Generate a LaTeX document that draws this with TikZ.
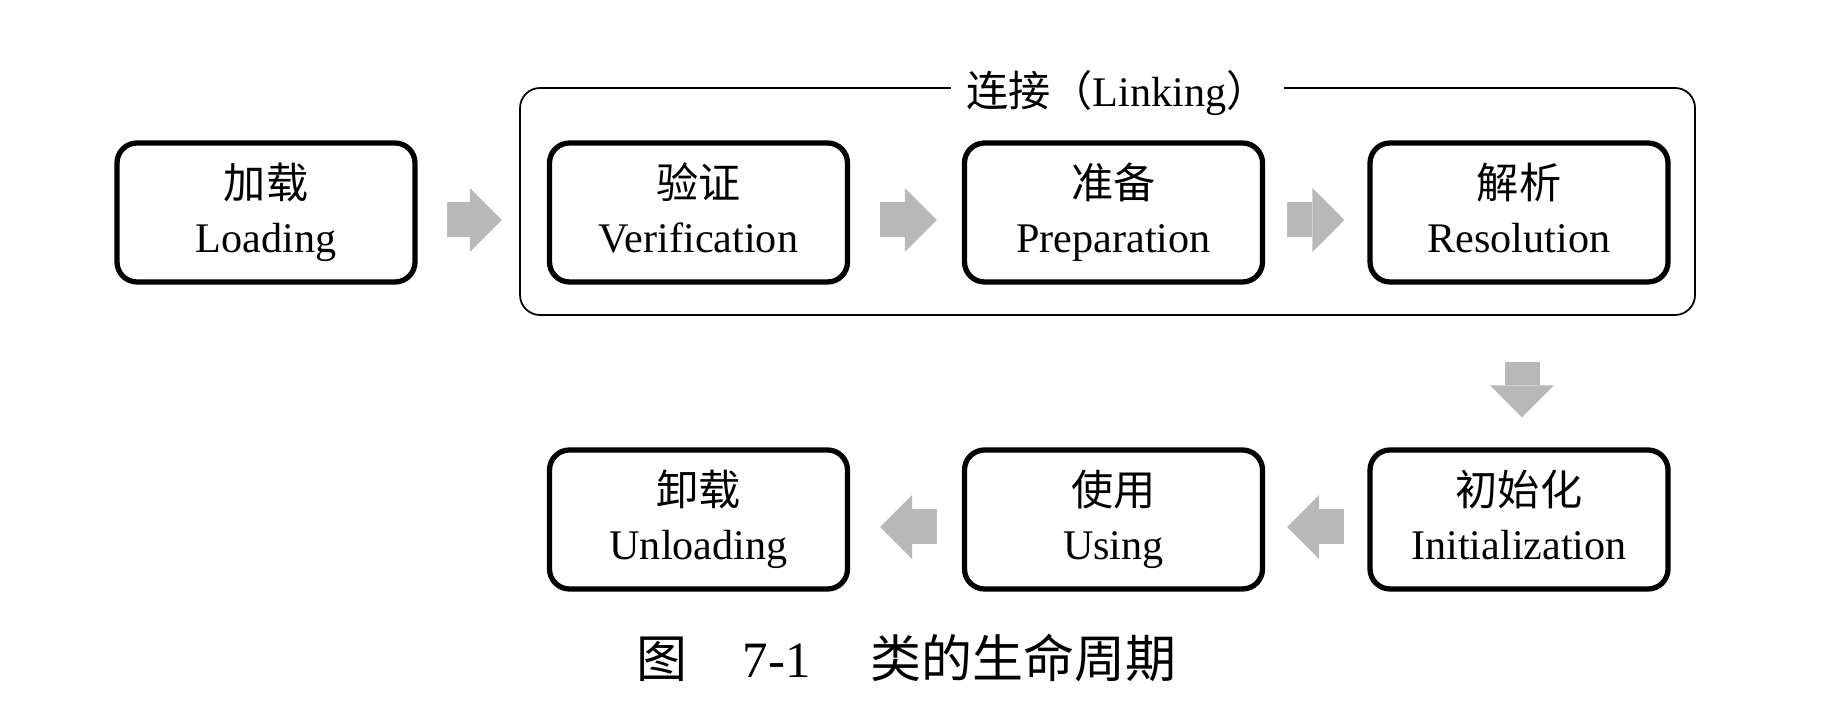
\documentclass[tikz,border=0pt]{standalone}
\usepackage{fontspec}
\setmainfont{Liberation Serif}
\newfontfamily\cjk{Noto Sans CJK SC}
\usetikzlibrary{arrows.meta}
\newcommand\stagetext[2]{{\cjk #1}\\#2\vphantom{gL}}

\begin{document}
\begin{tikzpicture}[
    stage/.style={draw, line width=1.5pt, rounded corners=0.2cm, minimum width=2.98cm, minimum height=1.39cm, inner sep=0pt, align=center, font=\fontsize{12}{15.4}\selectfont},
    flow/.style={line width=3.5mm, draw=black!28, -{Triangle[length=3.2mm, width=6.4mm, line width=0pt]}}
]
    \useasboundingbox (0,0) rectangle (18.34,7.28);
    % linking frame
    \node[draw, line width=0.5pt, rounded corners=0.2cm, minimum width=11.75cm, minimum height=2.27cm] (link) at (11.075,5.265) {};
    \node[fill=white, inner xsep=0.15cm, inner ysep=0pt, font=\fontsize{12}{14}\selectfont] (linkname) at ([xshift=0.1cm, yshift=-0.06cm]link.north) {{\cjk 连接（}Linking{\cjk ）}};
    % stages
    \node[stage] (load) at (2.66,5.155) {\stagetext{加载}{Loading}};
    \node[stage] (verify) at (6.985,5.155) {\stagetext{验证}{Verification}};
    \node[stage] (prep) at (11.135,5.155) {\stagetext{准备}{Preparation}};
    \node[stage] (resolve) at (15.19,5.155) {\stagetext{解析}{Resolution}};
    \node[stage] (init) at (15.19,2.085) {\stagetext{初始化}{Initialization}};
    \node[stage] (use) at (11.135,2.085) {\stagetext{使用}{Using}};
    \node[stage] (unload) at (6.985,2.085) {\stagetext{卸载}{Unloading}};
    % arrows
    \draw[flow, shorten <=0.29cm, shorten >=0.45cm] ([yshift=-0.75mm]load.east) -- ([yshift=-0.75mm]verify.west);
    \draw[flow, shorten <=0.30cm, shorten >=0.25cm] ([yshift=-0.75mm]verify.east) -- ([yshift=-0.75mm]prep.west);
    \draw[flow, shorten <=0.22cm, shorten >=0.23cm] ([yshift=-0.75mm]prep.east) -- ([yshift=-0.75mm]resolve.west);
    \draw[flow, shorten <=0.77cm, shorten >=0.30cm] ([xshift=0.3mm]resolve.south) -- ([xshift=0.3mm]init.north);
    \draw[flow, shorten <=0.23cm, shorten >=0.22cm] ([yshift=-0.75mm]init.west) -- ([yshift=-0.75mm]use.east);
    \draw[flow, shorten <=0.25cm, shorten >=0.30cm] ([yshift=-0.75mm]use.west) -- ([yshift=-0.75mm]unload.east);
    % caption
    \node[font=\fontsize{14.5}{16}\selectfont] (caption) at (9.065,0.70) {{\cjk 图}\hspace{0.55cm}7-1\hspace{0.6cm}{\cjk 类的生命周期}};
\end{tikzpicture}
\end{document}
